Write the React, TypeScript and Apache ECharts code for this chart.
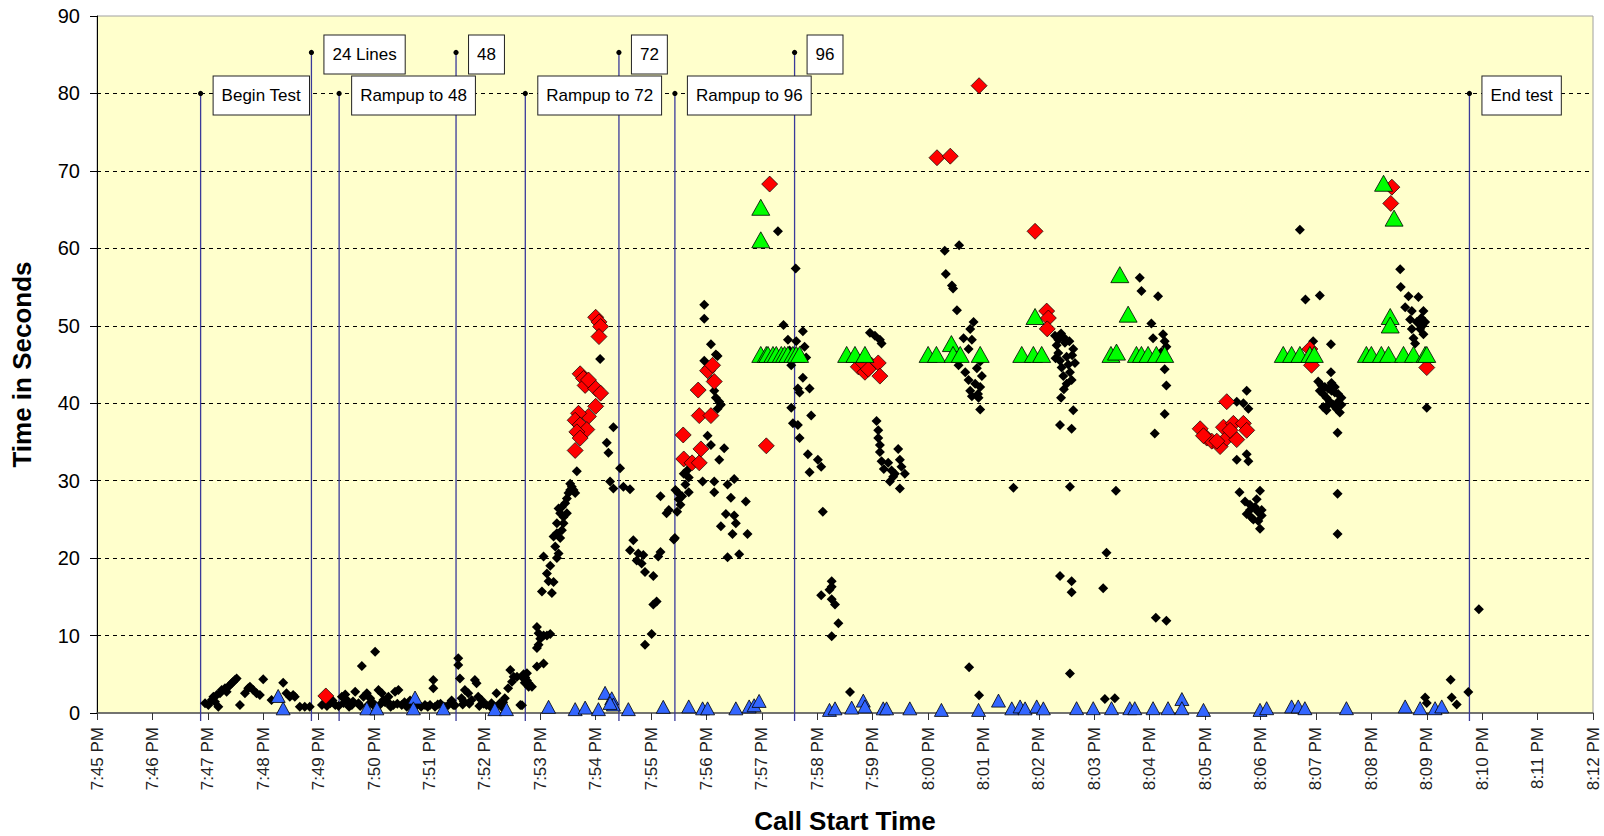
import React, { useEffect, useRef } from "react";
import * as echarts from "echarts";

// x values are minutes after 7:45 PM, y values are seconds
const startHour = 7;
const startMinute = 45;
const xMax = 27;
const yMax = 90;

const annotX = [1.87, 3.87, 4.37, 6.48, 7.73, 9.42, 10.43, 12.59, 24.77];
const annotY = [80, 85.3, 80, 85.3, 80, 85.3, 80, 85.3, 80];
const annotLabels = ["Begin Test", "24 Lines", "Rampup to 48", "48", "Rampup to 72", "72", "Rampup to 96", "96", "End test"];

const blackCalls = [
  [1.95,1.25],[2.01,1.03],[2.07,1.68],[2.10,2.11],[2.13,1.46],[2.16,2.32],[2.19,0.82],[2.22,2.54],[2.25,2.97],[2.31,3.18],[2.34,2.75],[2.37,3.4],[2.40,3.61],[2.43,3.83],[2.46,4.04],[2.49,4.26],[2.52,4.47],[2.58,1.03],[2.67,2.54],[2.73,3.18],[2.76,3.4],[2.82,2.97],[2.88,2.54],[2.94,2.32],[3.0,4.35],[3.15,1.68],[3.36,3.92],[3.42,2.54],[3.48,2.11],[3.54,2.32],[3.57,2.11],[3.66,0.82],[3.75,0.82],[3.84,0.82],[4.06,1.03],[4.21,1.25],[4.30,1.03],[4.42,2.11],[4.51,1.68],[4.60,1.03],[4.66,2.75],[4.72,1.25],[4.78,6.07],[4.81,2.11],[4.87,2.54],[4.93,1.89],[5.02,7.92],[5.08,2.97],[5.14,2.54],[5.17,1.68],[5.26,2.11],[5.35,1.03],[5.38,2.75],[5.44,2.97],[5.50,1.03],[5.59,0.82],[5.68,1.03],[5.77,1.03],[5.92,1.03],[6.01,1.03],[6.07,4.26],[6.07,3.18],[6.10,0.82],[6.28,0.82],[6.34,1.03],[6.43,1.03],[6.52,7.06],[6.52,6.2],[6.55,4.47],[6.58,1.89],[6.64,2.97],[6.70,2.54],[6.76,1.68],[6.82,4.26],[6.85,3.83],[6.88,2.11],[6.94,1.68],[7.03,1.03],[7.12,1.25],[7.21,2.54],[7.27,1.25],[7.36,1.89],[7.42,3.18],[7.46,5.55],[7.49,4.04],[7.52,4.69],[7.58,4.69],[7.64,1.03],[7.70,4.47],[7.76,5.12],[7.79,3.83],[7.85,3.4],
  [4.15,0.9],[4.45,1.3],[4.55,0.8],[4.9,1.1],[5.0,0.9],[5.2,1.4],[5.3,0.8],[5.55,1.4],[5.85,0.8],[6.2,1.2],[6.4,1.6],[6.6,1.1],[6.9,0.9],[7.1,0.8],[7.3,0.8],
  [4.25,1.6],[4.36,0.9],[4.48,2.4],[4.62,1.5],[4.75,0.9],[4.97,1.4],[5.11,1.1],[5.24,1.5],[5.42,1.2],[5.65,1.6],[5.97,0.8],[6.15,1.1],[6.46,1.0],[6.62,1.5],[6.72,1.2],[6.98,1.2],[7.16,0.9],[7.33,1.4],
  [7.67,4.7],[7.7,5.0],[7.73,4.6],[7.76,4.2],[7.79,3.4],[7.72,3.9],[7.67,1.0],[7.94,6.0],[8.06,6.4],[7.94,11.1],[7.97,10.3],[8.0,9.6],[8.06,10.0],[8.12,10.0],[8.18,10.2],[7.97,8.8],[7.94,8.4],
  [8.03,15.7],[8.21,15.5],[8.06,20.2],[8.18,19.0],[8.12,18.0],[8.24,16.9],[8.15,17.0],
  [8.30,20.0],[8.33,20.6],[8.27,21.5],[8.24,22.8],[8.30,23.2],[8.36,22.6],[8.39,23.6],[8.42,24.5],[8.36,25.8],[8.33,26.4],[8.39,26.6],[8.45,27.1],[8.48,27.7],[8.51,28.4],[8.54,28.8],[8.57,29.2],[8.60,28.8],[8.63,28.4],[8.54,29.6],[8.48,25.8],[8.42,25.3],[8.30,24.5],[8.66,31.2],
  [9.08,45.7],[9.32,36.9],[9.20,34.9],[9.23,33.6],[9.44,31.6],[9.26,29.9],[9.32,29.0],[9.50,29.2],[9.62,28.9],
  [9.68,22.3],[9.62,21.0],[9.77,20.6],[9.86,20.4],[9.74,19.7],[9.83,19.3],[9.89,18.2],[10.04,17.7],[10.04,14.0],[10.1,14.4],[10.01,10.2],[9.89,8.8],
  [10.17,20.8],[10.13,20.2],[10.17,28.0],[10.28,25.8],[10.43,22.6],[10.49,28.4],
  [10.96,52.7],[10.96,50.9],[11.08,47.6],[11.17,46.3],[11.2,46.1],[10.96,45.5],[11.0,44.5],[11.1,43.0],[11.17,40.7],[11.23,40.2],[11.26,39.8],[11.2,39.3],[11.14,41.6],[11.02,35.8],[11.08,34.6],[11.32,34.2],[11.23,32.7],[11.5,30.2],[11.14,29.9],[10.93,29.9],[11.38,29.5],[11.44,27.8],[11.14,28.5],[11.71,27.3],[11.35,25.7],[11.5,25.5],[11.53,24.5],[11.26,24.1],[11.47,23.1],[11.74,23.1],[11.38,20.1],[11.59,20.5],
  [10.41,22.4],[10.32,26.2],[10.44,28.8],[10.50,27.6],[10.56,28.0],[10.62,29.5],[10.68,30.4],[10.65,31.3],[10.59,30.9],[10.53,26.9],[10.47,26.0],[10.68,28.5],
  [12.29,62.2],[12.61,57.4],[12.39,50.1],[12.47,48.2],[12.5,46.8],[12.62,48.0],[12.74,49.3],[12.77,47.3],[12.8,45.9],[12.53,44.9],[12.74,43.3],[12.65,41.9],[12.86,41.9],[12.68,41.4],[12.53,39.4],[12.89,38.4],[12.56,37.4],[12.65,37.2],[12.68,35.5],[12.83,33.4],[13.01,32.7],[13.07,31.8],[12.86,31.1],[13.10,26.0],
  [13.26,17.0],[13.26,16.3],[13.22,15.9],[13.26,14.7],[13.07,15.2],[13.32,14.0],[13.38,11.6],[13.26,9.9],[13.59,2.7],
  [13.95,49.1],[14.04,48.7],[14.13,48.2],[14.16,47.7],
  [14.07,37.7],[14.1,36.5],[14.1,35.5],[14.13,34.6],[14.13,33.7],[14.16,32.5],[14.28,32.3],[14.34,31.3],[14.31,29.9],[14.4,30.9],[14.46,34.1],[14.49,32.7],[14.52,31.8],[14.58,30.9],[14.49,29.0],[14.2,31.5],[14.37,30.5],
  [15.30,59.7],[15.56,60.4],[15.32,56.7],[15.43,55.2],[15.45,54.8],[15.52,52.0],[15.82,50.5],[15.76,49.6],[15.64,48.4],[15.79,48.2],[15.73,47.0],[15.55,44.9],[15.67,44.0],[15.73,43.0],[15.76,41.6],[15.79,40.9],[15.88,44.5],[15.94,45.4],[15.97,43.5],[15.94,42.1],[15.91,40.7],[15.94,39.2],[15.85,42.5],[15.9,41.2],
  [16.54,29.1],[15.74,5.9],[15.92,2.3],
  [17.29,48.7],[17.32,47.5],[17.35,46.5],[17.38,45.5],[17.41,44.6],[17.44,43.5],[17.47,47.8],[17.5,46.0],[17.53,45.0],[17.56,44.0],[17.59,43.0],[17.62,47.0],[17.35,48.2],[17.4,49.0],[17.45,48.5],[17.55,48.0],[17.6,46.2],[17.65,45.2],[17.3,45.8],[17.5,42.5],[17.45,41.8],[17.4,40.7],
  [17.38,37.2],[17.59,36.7],[17.62,39.1],[17.56,29.2],[17.38,17.7],[17.59,17.0],[17.59,15.6],[17.56,5.1],
  [18.82,56.2],[18.85,54.5],[19.15,53.8],[19.03,50.3],[19.06,48.4],[19.24,48.9],[19.27,48.0],[19.3,47.3],[19.21,46.6],[19.27,44.4],[19.3,42.3],[19.27,38.6],[19.09,36.1],[18.39,28.7],[18.22,20.7],[18.16,16.1],[19.11,12.3],[19.3,11.9],[18.19,1.8],[18.37,1.9],
  [20.75,41.6],[20.57,40.2],[20.69,40.0],[20.78,39.3],[20.57,32.7],[20.75,33.4],[20.78,32.5],[20.62,28.5],[20.99,28.7],[20.72,27.3],[20.81,26.9],[20.9,26.6],[21.02,26.2],[20.75,25.7],[20.84,25.2],[20.96,24.8],[20.99,23.8],[20.93,27.6],[21.02,25.5],[20.81,26.2],[20.87,25.0],[20.95,26.0],
  [21.71,62.4],[21.81,53.4],[22.07,53.9],[21.95,48.0],[22.27,47.6],[22.27,44.0],
  [22.04,42.8],[22.1,42.3],[22.16,42.1],[22.22,41.9],[22.28,41.6],[22.34,41.4],[22.4,41.2],[22.46,40.7],[22.07,41.6],[22.13,41.2],[22.19,40.7],[22.25,40.2],[22.31,39.8],[22.37,39.3],[22.43,38.8],[22.13,39.5],[22.19,39.1],[22.28,42.6],[22.34,42.1],[22.4,40.2],[22.46,39.8],[22.22,39.8],
  [22.39,36.2],[22.39,28.3],[22.39,23.1],
  [23.52,57.3],[23.53,55.0],[23.67,53.8],[23.85,53.7],[23.61,52.4],[23.73,51.9],[23.94,51.9],[23.7,50.8],[23.82,50.5],[23.97,50.5],[23.73,49.6],[23.88,49.6],[23.76,48.4],[23.94,48.9],[23.79,47.7],[23.9,51.0],[23.92,50.0],
  [24.0,39.4],[24.94,13.4],[24.43,4.3],[24.75,2.7],[23.97,2.0],[24.0,1.3],[24.45,2.0],[24.54,1.1]
];

const redCalls = [
  [4.13,2.2],
  [9.0,51.1],[9.06,50.5],[9.09,49.9],[9.06,48.6],[8.72,43.8],[8.78,43.2],[8.81,42.3],[8.87,43.0],[9.0,41.9],[9.09,41.3],[9.0,39.6],[8.87,38.3],[8.69,38.7],[8.63,37.8],[8.72,37.2],[8.84,36.6],[8.66,36.3],[8.72,35.5],[8.63,33.9],
  [10.58,35.9],[10.59,32.8],[10.74,32.3],[10.87,32.3],[10.9,34.1],[10.87,38.4],[11.08,38.4],[10.85,41.7],[11.02,44.2],[11.14,42.8],[11.11,44.9],
  [12.14,68.3],[12.08,34.5],
  [13.74,44.7],[13.86,44.0],[13.98,44.9],[14.1,45.2],[14.13,43.5],[13.8,45.4],[13.92,44.4],
  [15.16,71.7],[15.4,71.9],[15.92,81.0],[16.93,62.2],[17.14,51.9],[17.17,51.0],[17.15,49.6],
  [20.39,40.2],[19.91,36.7],[20.03,35.5],[20.12,35.1],[20.27,34.4],[20.33,36.9],[20.39,35.5],[20.51,37.4],[20.57,35.3],[20.69,37.4],[20.75,36.5],[19.97,35.8],[20.21,35.1],[20.45,36.5],
  [21.92,44.9],[21.89,47.0],[23.37,67.9],[23.35,65.8],[24.0,44.6]
];

const greenCalls = [
  [11.98,65.3],[11.98,61.1],
  [11.98,46.3],[12.08,46.3],[12.11,46.3],[12.2,46.3],[12.26,46.3],[12.35,46.3],[12.41,46.3],[12.47,46.3],[12.56,46.3],[12.62,46.3],[12.68,46.3],
  [13.53,46.3],[13.68,46.3],[13.86,46.3],
  [15.0,46.3],[15.15,46.3],[15.42,47.7],[15.45,46.3],[15.58,46.3],[15.94,46.3],
  [16.69,46.3],[16.9,46.3],[17.05,46.3],[16.93,51.2],
  [18.46,56.6],[18.61,51.5],[18.3,46.3],[18.4,46.6],[18.76,46.3],[18.85,46.3],[18.97,46.3],[19.12,46.3],[19.27,46.3],
  [21.41,46.3],[21.56,46.3],[21.71,46.3],[21.89,46.3],[21.97,46.3],
  [23.22,68.4],[23.41,63.9],[23.34,51.2],[23.34,50.1],
  [22.91,46.3],[23.0,46.3],[23.18,46.3],[23.31,46.3],[23.58,46.3],[23.76,46.3],[23.97,46.3],[24.0,46.3]
];

const blueCalls = [
  [3.27,2.2],[3.36,0.6],[4.87,0.6],[5.05,0.6],[5.74,2.0],[5.71,0.6],[6.25,0.6],[7.18,0.5],[7.39,0.5],
  [8.15,0.8],[8.63,0.5],[8.81,0.7],[9.05,0.5],[9.17,2.6],[9.29,1.9],[9.32,1.1],[9.26,1.3],[9.59,0.5],[10.22,0.8],
  [10.68,0.85],[10.93,0.6],[11.02,0.6],[11.53,0.6],[11.77,0.85],[11.86,1.0],[11.95,1.56],
  [13.22,0.4],[13.32,0.6],[13.62,0.7],
  [13.83,1.6],[13.86,0.85],[14.19,0.6],[14.25,0.6],[14.67,0.6],[15.24,0.4],[15.91,0.4],[16.27,1.6],[16.51,0.6],[16.66,0.85],[16.75,0.6],[16.96,0.85],[17.08,0.6],
  [17.68,0.62],[17.98,0.62],[18.31,0.62],[18.64,0.62],[18.73,0.62],[19.06,0.62],[19.33,0.62],[19.58,1.8],[19.58,0.62],[19.97,0.4],
  [20.99,0.4],[21.11,0.62],[21.56,0.85],[21.68,0.85],[21.8,0.62],[22.55,0.62],[23.61,0.85],[23.88,0.62],[24.15,0.62],[24.27,0.85]
];

const FONT = "Arial, 'Liberation Sans', sans-serif";

function timeLabel(v: number): string {
  const total = startHour * 60 + startMinute + Math.round(v);
  const h = Math.floor(total / 60);
  const m = total % 60;
  return `${h}:${m < 10 ? "0" + m : m} PM`;
}

export default function App() {
  const ref = useRef<HTMLDivElement>(null);
  useEffect(() => {
    const chart = echarts.init(ref.current as HTMLDivElement, null, { renderer: "svg" });
    const annotData = annotX.map((x, i) => [x, annotY[i]]);
    chart.setOption({
      animation: false,
      backgroundColor: "#ffffff",
      textStyle: { fontFamily: FONT },
      grid: {
        left: 97, right: 11, top: 16, bottom: 123,
        outerBoundsMode: "none", containLabel: false,
        show: true, backgroundColor: "#FFFFCC", borderColor: "#a0a0a0", borderWidth: 1,
      },
      xAxis: {
        type: "value", min: 0, max: xMax, interval: 1,
        axisLine: { show: true, onZero: false, lineStyle: { color: "#555555", width: 1.5 } },
        axisTick: { show: true, inside: false, length: 7, lineStyle: { color: "#333333" } },
        axisLabel: { rotate: 90, margin: 14, fontSize: 17, color: "#222222", fontFamily: FONT, formatter: (v: number) => timeLabel(v) },
        splitLine: { show: false },
        name: "Call Start Time", nameLocation: "middle", nameGap: 95,
        nameTextStyle: { fontSize: 26, fontWeight: "bold", color: "#000000", fontFamily: FONT },
      },
      yAxis: {
        type: "value", min: 0, max: yMax, interval: 10,
        axisLine: { show: true, lineStyle: { color: "#000000", width: 1 } },
        axisTick: { show: true, inside: false, length: 7, lineStyle: { color: "#000000" } },
        axisLabel: { fontSize: 20, color: "#000000", margin: 17, fontFamily: FONT },
        splitLine: { show: true, showMinLine: false, showMaxLine: false, lineStyle: { type: [4, 4], color: "#000000", width: 1 } },
        name: "Time in Seconds", nameLocation: "middle", nameGap: 62,
        nameTextStyle: { fontSize: 26, fontWeight: "bold", color: "#000000", fontFamily: FONT },
      },
      series: [
        {
          type: "custom", z: 1, clip: false, silent: true,
          encode: { x: 0, y: 1 },
          data: annotData,
          renderItem: (params: any, api: any) => {
            const top = api.coord([api.value(0), api.value(1)]);
            const base = api.coord([api.value(0), 0]);
            return {
              type: "group",
              children: [
                { type: "line", shape: { x1: top[0], y1: top[1], x2: top[0], y2: base[1] + 8 }, style: { stroke: "#3A3A9A", lineWidth: 1.3 } },
                { type: "circle", shape: { cx: top[0], cy: top[1], r: 2.6 }, style: { fill: "#000000" } },
              ],
            };
          },
        },
        { type: "scatter", z: 2, data: blackCalls, symbol: "diamond", symbolSize: 10, itemStyle: { color: "#000000", opacity: 1 } },
        { type: "scatter", z: 3, data: redCalls, symbol: "diamond", symbolSize: 16, itemStyle: { color: "#FF0000", borderColor: "#000000", borderWidth: 0.7, opacity: 1 } },
        { type: "scatter", z: 4, data: greenCalls, symbol: "triangle", symbolSize: [18, 16], itemStyle: { color: "#00FF00", borderColor: "#000000", borderWidth: 0.8, opacity: 1 } },
        { type: "scatter", z: 5, data: blueCalls, symbol: "triangle", symbolSize: [14, 13], itemStyle: { color: "#3366FF", borderColor: "#000000", borderWidth: 0.8, opacity: 1 } },
        {
          type: "custom", z: 10, clip: false, silent: true,
          encode: { x: 0, y: 1 },
          data: annotData,
          renderItem: (params: any, api: any) => {
            const top = api.coord([api.value(0), api.value(1)]);
            return {
              type: "text",
              x: top[0] + 13,
              y: top[1] + 2,
              style: {
                text: annotLabels[params.dataIndex],
                fontSize: 17, fontFamily: FONT, fill: "#000000",
                align: "left", verticalAlign: "middle",
                backgroundColor: "#ffffff", borderColor: "#222222", borderWidth: 1,
                padding: [11, 8, 10, 8],
              },
            };
          },
        },
      ],
    });
    return () => chart.dispose();
  }, []);
  return <div ref={ref} style={{ position: "fixed", left: 0, top: 0, width: 1604, height: 836 }} />;
}
